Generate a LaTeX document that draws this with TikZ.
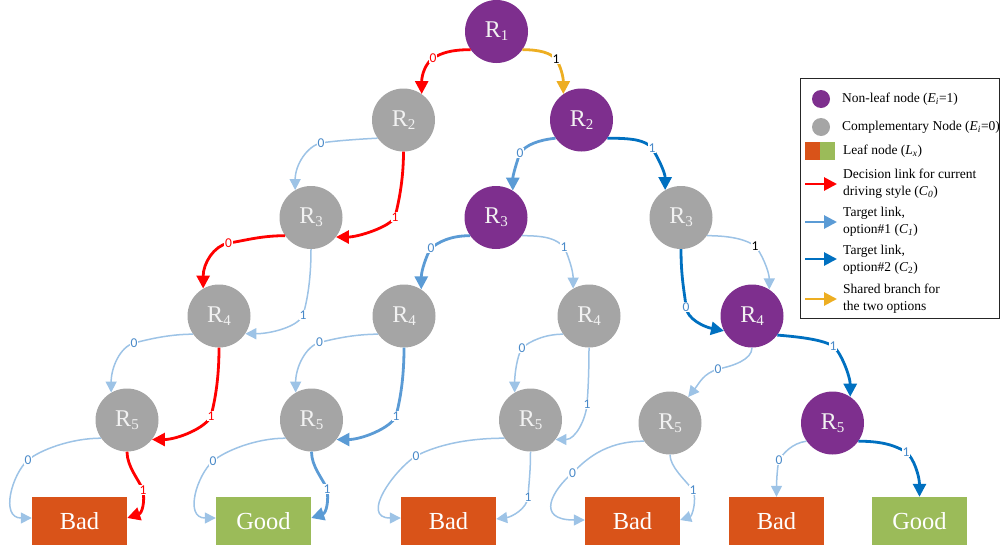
\documentclass[tikz,border=0pt]{standalone}
\usepackage{fontspec}
\setmainfont{Liberation Serif}
\newfontfamily\lblfont{Carlito}
\usetikzlibrary{arrows.meta}

\definecolor{nodepurple}{HTML}{7E2F8E}
\definecolor{nodegrey}{HTML}{A5A5A5}
\definecolor{leaforange}{HTML}{D95319}
\definecolor{leafgreen}{HTML}{9BBB59}
\definecolor{linkred}{HTML}{FF0000}
\definecolor{linklight}{HTML}{9DC3E6}
\definecolor{linkmid}{HTML}{5B9BD5}
\definecolor{linkdark}{HTML}{0070C0}
\definecolor{linkgold}{HTML}{EDAE22}
\definecolor{lblblue}{HTML}{4A8AC9}

% R with a lowered index, as used inside the decision nodes
\newcommand{\Rsub}[1]{R\raisebox{-3pt}{\fontsize{15}{15}\selectfont #1}}

\begin{document}
\begin{tikzpicture}[x=1pt,y=-1pt,
  treenode/.style={circle, minimum size=63pt, inner sep=0pt, text=white!95!black,
    font={\fontsize{24}{24}\selectfont}},
  nonleaf/.style={treenode, fill=nodepurple},
  compl/.style={treenode, fill=nodegrey},
  leaf/.style={rectangle, minimum width=95pt, minimum height=48pt, inner sep=0pt,
    text=white, font={\fontsize{24.5}{24.5}\selectfont}},
  bad/.style={leaf, fill=leaforange},
  good/.style={leaf, fill=leafgreen},
  thicklink/.style={line width=2.8pt, -{Triangle[length=13pt,width=13pt]}},
  c0link/.style={thicklink, draw=linkred},
  c1link/.style={thicklink, draw=linkmid},
  c2link/.style={thicklink, draw=linkdark},
  sharedlink/.style={thicklink, draw=linkgold},
  auxlink/.style={line width=1.5pt, draw=linklight, -{Triangle[length=11pt,width=11pt]}},
  lbl/.style={fill=white, inner sep=1pt, text=lblblue,
    font={\lblfont\fontsize{13.5}{13.5}\selectfont}},
  keydot/.style={circle, minimum size=18pt, inner sep=0pt},
  keybox/.style={rectangle, minimum width=15pt, minimum height=18pt, inner sep=0pt},
  keytext/.style={anchor=west, inner sep=0pt, align=left,
    font={\fontsize{13.5}{17}\selectfont}},
  legendframe/.style={draw=black!85, line width=1pt}
]
\useasboundingbox (0,0) rectangle (1001,552);

% decision tree nodes
\node[nonleaf] (r1)  at (496.5,31.5) {\Rsub{1}};
\node[compl]   (r2a) at (403.5,120)  {\Rsub{2}};
\node[nonleaf] (r2b) at (581.5,120)  {\Rsub{2}};
\node[compl]   (r3a) at (311,217.5)  {\Rsub{3}};
\node[nonleaf] (r3b) at (496,217.5)  {\Rsub{3}};
\node[compl]   (r3c) at (681,217.5)  {\Rsub{3}};
\node[compl]   (r4a) at (219,316)    {\Rsub{4}};
\node[compl]   (r4b) at (404,316)    {\Rsub{4}};
\node[compl]   (r4c) at (589,316)    {\Rsub{4}};
\node[nonleaf] (r4d) at (752,316)    {\Rsub{4}};
\node[compl]   (r5a) at (127,420)    {\Rsub{5}};
\node[compl]   (r5b) at (311.5,420)  {\Rsub{5}};
\node[compl]   (r5c) at (530.5,420)  {\Rsub{5}};
\node[compl]   (r5d) at (670,423)    {\Rsub{5}};
\node[nonleaf] (r5e) at (832.5,423)  {\Rsub{5}};

% leaves
\node[bad]  (l1) at (79.5,521)  {Bad};
\node[good] (l2) at (263.5,521) {Good};
\node[bad]  (l3) at (448.5,521) {Bad};
\node[bad]  (l4) at (632.5,521) {Bad};
\node[bad]  (l5) at (776.5,521) {Bad};
\node[good] (l6) at (919.5,521) {Good};

% level 1 -> 2
\draw[c0link] (r1.215) .. controls +(-20,0) and +(9,-5) .. (433,58) node[lbl,text=linkred]{0}
  .. controls +(-7,5) and +(0,-20) .. (r2a.55);
\draw[sharedlink] (r1.325) .. controls +(18,0) and +(-6,-6) .. (556,59) node[lbl,text=black]{1}
  .. controls +(4,6) and +(0,-18) .. (r2b.125);

% level 2 -> 3
\draw[auxlink] (r2a.215) .. controls +(-20,1) and +(12,-2) .. (321,143) node[lbl]{0}
  .. controls +(-14,3) and +(0,-25) .. (r3a.120);
\draw[c0link] (r2a.270) .. controls +(0,30) and +(3,-12) .. (395,217) node[lbl,text=linkred]{1}
  .. controls +(-5,10) and +(22,0) .. (r3a.322);
\draw[c1link] (r2b.215) .. controls +(-18,2) and +(6,-8) .. (520,153) node[lbl]{0}
  .. controls +(-3,8) and +(0,-15) .. (r3b.58);
\draw[c2link] (r2b.325) .. controls +(25,0) and +(-7,-8) .. (652,148) node[lbl]{1}
  .. controls +(5,8) and +(0,-18) .. (r3c.120);

% level 3 -> 4
\draw[c0link] (r3a.215) .. controls +(-25,0) and +(15,-2) .. (228.5,243) node[lbl,text=linkred]{0}
  .. controls +(-15,3) and +(0,-25) .. (r4a.120);
\draw[auxlink] (r3a.270) .. controls +(0,35) and +(3,-10) .. (303,315) node[lbl]{1}
  .. controls +(-5,12) and +(25,0) .. (r4a.326);
\draw[c1link] (r3b.215) .. controls +(-20,0) and +(8,-6) .. (431,248) node[lbl]{0}
  .. controls +(-5,8) and +(0,-18) .. (r4b.57);
\draw[auxlink] (r3b.325) .. controls +(25,0) and +(-8,-8) .. (564,247) node[lbl]{1}
  .. controls +(4,8) and +(0,-18) .. (r4c.120);
\draw[c2link] (r3c.270) .. controls +(0,30) and +(-1,-12) .. (686,307) node[lbl]{0}
  .. controls +(1,12) and +(-20,-4) .. (r4d.208);
\draw[auxlink] (r3c.325) .. controls +(25,0) and +(-8,-6) .. (755,246) node[lbl,text=black]{1}
  .. controls +(6,6) and +(0,-18) .. (r4d.57);

% level 4 -> 5
\draw[auxlink] (r4a.215) .. controls +(-25,0) and +(12,-3) .. (134,343) node[lbl]{0}
  .. controls +(-14,4) and +(0,-25) .. (r5a.120);
\draw[c0link] (r4a.270) .. controls +(0,35) and +(3,-12) .. (211,416) node[lbl,text=linkred]{1}
  .. controls +(-5,12) and +(25,0) .. (r5a.322);
\draw[auxlink] (r4b.215) .. controls +(-25,0) and +(12,-3) .. (319.5,342.5) node[lbl]{0}
  .. controls +(-14,4) and +(0,-25) .. (r5b.120);
\draw[c1link] (r4b.270) .. controls +(0,35) and +(3,-12) .. (396,416) node[lbl]{1}
  .. controls +(-5,12) and +(25,0) .. (r5b.322);
\draw[auxlink] (r4c.215) .. controls +(-18,0) and +(8,-7) .. (522,348) node[lbl]{0}
  .. controls +(-5,8) and +(0,-18) .. (r5c.120);
\draw[auxlink] (r4c.270) .. controls +(0,25) and +(1,-12) .. (587,404) node[lbl]{1}
  .. controls +(-1,15) and +(20,0) .. (r5c.322);
\draw[auxlink] (r4d.270) .. controls +(0,12) and +(15,-3) .. (718,369) node[lbl]{0}
  .. controls +(-15,5) and +(12,-15) .. (r5d.55);
\draw[c2link] (r4d.323) .. controls +(25,2) and +(-10,-6) .. (833,346) node[lbl]{1}
  .. controls +(8,6) and +(0,-20) .. (r5e.56);

% level 5 -> leaves
\draw[auxlink] (r5a.215) .. controls +(-30,0) and +(12,-10) .. (28,460) node[lbl]{0}
  .. controls +(-16,14) and +(-32,0) .. ([yshift=3pt]l1.west);
\draw[c0link] (r5a.270) .. controls +(0,15) and +(-4,-10) .. (143,490) node[lbl,text=linkred]{1}
  .. controls +(2,12) and +(15,-5) .. ([yshift=3pt]l1.east);
\draw[auxlink] (r5b.215) .. controls +(-30,0) and +(12,-10) .. (213,461) node[lbl]{0}
  .. controls +(-16,14) and +(-32,0) .. ([yshift=3pt]l2.west);
\draw[c1link] (r5b.270) .. controls +(0,15) and +(-4,-10) .. (327,489) node[lbl]{1}
  .. controls +(2,12) and +(15,-5) .. ([yshift=3pt]l2.east);
\draw[auxlink] (r5c.215) .. controls +(-45,0) and +(15,-8) .. (416,456) node[lbl]{0}
  .. controls +(-22,14) and +(-41,0) .. ([yshift=3pt]l3.west);
\draw[auxlink] (r5c.270) .. controls +(0,20) and +(1,-15) .. (528,497) node[lbl]{1}
  .. controls +(-1,12) and +(15,-2) .. ([yshift=2pt]l3.east);
\draw[auxlink] (r5d.215) .. controls +(-40,0) and +(12,-12) .. (572.5,473) node[lbl]{0}
  .. controls +(-20,17) and +(-50,0) .. ([yshift=1pt]l4.west);
\draw[auxlink] (r5d.270) .. controls +(0,12) and +(-8,-10) .. (693,490) node[lbl]{1}
  .. controls +(4,10) and +(12,-4) .. ([yshift=1pt]l4.east);
\draw[auxlink] (r5e.215) .. controls +(-15,2) and +(4,-6) .. (779,460) node[lbl]{0}
  .. controls +(-2,8) and +(0,-12) .. (l5.north);
\draw[c2link] (r5e.325) .. controls +(25,0) and +(-10,-6) .. (906,452) node[lbl]{1}
  .. controls +(8,6) and +(0,-20) .. (l6.north);

% legend
\draw[legendframe] (800.5,78) rectangle (999.5,318);
\node[keydot, fill=nodepurple] (kpurple) at (821,99) {};
\node[keydot, fill=nodegrey] (kgrey) at (821,127) {};
\node[keybox, fill=leaforange] (korange) at (812.5,151) {};
\node[keybox, fill=leafgreen] (kgreen) at (827.5,151) {};
\coordinate (k0s) at (805,184); \coordinate (k0e) at (837,184);
\coordinate (k1s) at (805,222); \coordinate (k1e) at (837,222);
\coordinate (k2s) at (805,259); \coordinate (k2e) at (837,259);
\coordinate (k3s) at (805,299); \coordinate (k3e) at (837,299);
\draw[c0link] (k0s) -- (k0e);
\draw[c1link] (k1s) -- (k1e);
\draw[c2link] (k2s) -- (k2e);
\draw[sharedlink] (k3s) -- (k3e);
\node[keytext] (tpurple) at (842,99) {Non-leaf node (\textit{E}\textsubscript{\textit{i}}=1)};
\node[keytext] (tgrey) at (842,127) {Complementary Node (\textit{E}\textsubscript{\textit{i}}=0)};
\node[keytext] (tleaf) at (843,151) {Leaf node (\textit{L}\textsubscript{\textit{x}})};
\node[keytext] (tc0) at (843,184) {Decision link for current\\driving style (\textit{C}\textsubscript{\textit{0}})};
\node[keytext] (tc1) at (843,222) {Target link,\\option\#1 (\textit{C}\textsubscript{\textit{1}})};
\node[keytext] (tc2) at (843,260) {Target link,\\option\#2 (\textit{C}\textsubscript{2})};
\node[keytext] (tshared) at (843,299) {Shared branch for\\the two options};
\end{tikzpicture}
\end{document}
